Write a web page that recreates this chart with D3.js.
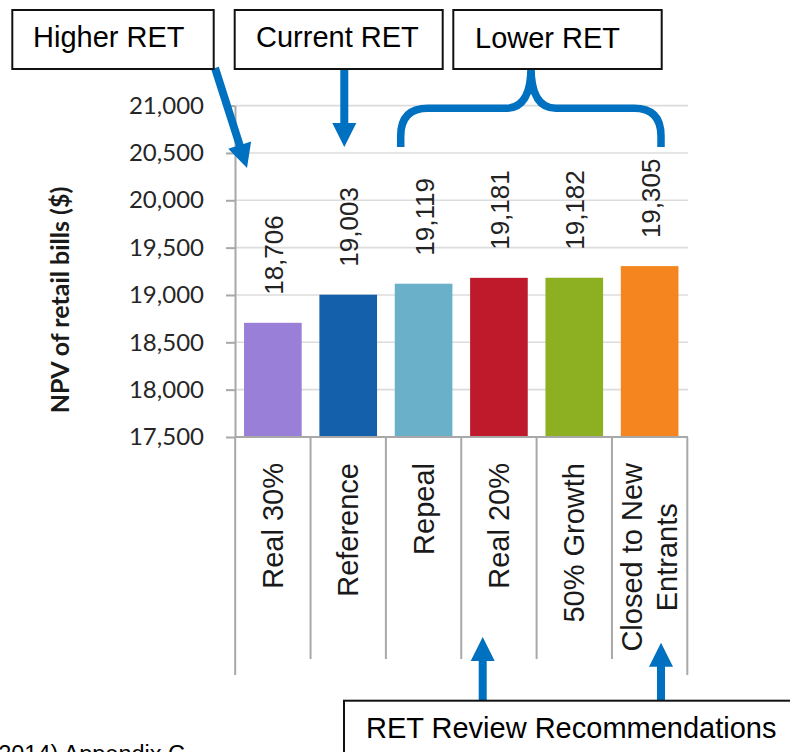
<!DOCTYPE html>
<html>
<head>
<meta charset="utf-8">
<script src="https://cdn.jsdelivr.net/npm/d3@7"></script>
<style>
  body { margin: 0; background: #fff; }
</style>
</head>
<body>
<script>
// chart data
const categories = ["Real 30%", "Reference", "Repeal", "Real 20%", "50% Growth", "Closed to New\nEntrants"];
const values = [18706, 19003, 19119, 19181, 19182, 19305];
const barColors = ["#9a7fd8", "#1460ab", "#6bb0c9", "#be1a2c", "#8cb022", "#f5861f"];
const yTicks = [17500, 18000, 18500, 19000, 19500, 20000, 20500, 21000];
const yTitle = "NPV of retail bills ($)";
const sourceNote = "(2014) Appendix C";

const width = 790,
    height = 752;

const svg = d3.select('body')
    .append('svg')
    .attr('width', width)
    .attr('height', height)
    .style('display', 'block');

const excelFont = "Lato, 'Open Sans', sans-serif";
const arialFont = "'Liberation Sans', Arial, sans-serif";
const blue = "#0070c0";

const x = d3.scaleBand()
    .domain(categories)
    .range([235, 687.5])
    .paddingInner(0.235)
    .paddingOuter(0.12);

const y = d3.scaleLinear()
    .domain([17500, 21000])
    .range([437, 105.6]);

// gridlines
svg.append('g')
    .selectAll('line')
    .data(yTicks.filter(d => d > 17500))
    .enter().append('line')
    .attr('x1', 235)
    .attr('x2', 688)
    .attr('y1', d => y(d))
    .attr('y2', d => y(d))
    .attr('stroke', '#dcdcdc')
    .attr('stroke-width', 1.6);

// y axis
const yAxis = svg.append('g')
    .attr('transform', 'translate(235,0)')
    .call(d3.axisLeft(y)
        .tickValues(yTicks)
        .tickFormat(d3.format(','))
        .tickSize(9)
        .tickSizeOuter(0)
        .tickPadding(22));
yAxis.select('.domain').attr('stroke', '#a8a8a8').attr('stroke-width', 2);
yAxis.selectAll('.tick line').attr('stroke', '#a8a8a8').attr('stroke-width', 2);
yAxis.selectAll('.tick text')
    .attr('fill', '#262626')
    .style('font-family', excelFont)
    .style('font-size', '24px');

svg.append('text')
    .attr('transform', 'translate(69,300) rotate(-90)')
    .attr('text-anchor', 'middle')
    .style('font-family', excelFont)
    .style('font-weight', 'bold')
    .style('font-size', '25px')
    .attr('fill', '#1a1a1a')
    .text(yTitle);

// bars
svg.append('g')
    .selectAll('rect')
    .data(values)
    .enter().append('rect')
    .attr('x', (d, i) => x(categories[i]))
    .attr('y', d => y(d))
    .attr('width', x.bandwidth())
    .attr('height', d => y(17500) - y(d))
    .attr('fill', (d, i) => barColors[i]);

// value labels
svg.append('g')
    .selectAll('text')
    .data(values)
    .enter().append('text')
    .attr('transform', (d, i) => 'translate(' + (x(categories[i]) + x.bandwidth() / 2 + 10) + ',' + (y(d) - 28) + ') rotate(-90)')
    .attr('text-anchor', 'start')
    .style('font-family', arialFont)
    .style('font-size', '26px')
    .attr('fill', '#222')
    .text(d => d3.format(',')(d));

// x axis line and category separators
const gap = (x.step() - x.bandwidth()) / 2;
const bounds = categories.map(c => x(c) - gap);
bounds.push(x(categories[categories.length - 1]) + x.bandwidth() + gap);

svg.append('line')
    .attr('x1', 235).attr('x2', 688)
    .attr('y1', y(17500)).attr('y2', y(17500))
    .attr('stroke', '#a8a8a8')
    .attr('stroke-width', 2);

svg.append('g')
    .selectAll('line')
    .data(bounds)
    .enter().append('line')
    .attr('x1', d => d).attr('x2', d => d)
    .attr('y1', y(17500))
    .attr('y2', (d, i) => (i === 0 || i === bounds.length - 1) ? 675 : 659)
    .attr('stroke', '#a8a8a8')
    .attr('stroke-width', 2);

// category labels
const catLabels = svg.append('g');
categories.forEach(function (c) {
    const lines = c.split('\n');
    const cx = x(c) + x.bandwidth() / 2;
    const texts = lines.map(function (line, i) {
        return catLabels.append('text')
            .style('font-family', arialFont)
            .style('font-size', '29px')
            .attr('fill', '#1a1a1a')
            .attr('text-anchor', 'middle')
            .text(line)
            .attr('data-bx', cx + 10 + (i - (lines.length - 1) / 2) * 35);
    });
    const maxLen = d3.max(texts, t => t.node().getComputedTextLength());
    texts.forEach(function (t) {
        t.attr('transform', 'translate(' + t.attr('data-bx') + ',' + (463 + maxLen / 2) + ') rotate(-90)');
    });
});

// annotations
function arrow(x1, y1, x2, y2) {
    const len = Math.hypot(x2 - x1, y2 - y1),
        ux = (x2 - x1) / len, uy = (y2 - y1) / len,
        px = -uy, py = ux,
        sw = 4, hw = 12, hl = 24;
    const bx = x2 - ux * hl, by = y2 - uy * hl;
    const pts = [
        [x1 + px * sw, y1 + py * sw],
        [bx + px * sw, by + py * sw],
        [bx + px * hw, by + py * hw],
        [x2, y2],
        [bx - px * hw, by - py * hw],
        [bx - px * sw, by - py * sw],
        [x1 - px * sw, y1 - py * sw]
    ];
    svg.append('path')
        .attr('d', 'M' + pts.map(p => p.join(',')).join('L') + 'Z')
        .attr('fill', blue);
}

function box(x0, y0, w, h, label, tx, ty) {
    svg.append('rect')
        .attr('x', x0).attr('y', y0)
        .attr('width', w).attr('height', h)
        .attr('fill', '#fff')
        .attr('stroke', '#111')
        .attr('stroke-width', 2);
    svg.append('text')
        .attr('x', tx).attr('y', ty)
        .style('font-family', arialFont)
        .style('font-size', '29px')
        .attr('fill', '#000')
        .text(label);
}

arrow(215, 68, 247, 168);
arrow(344.3, 68, 344.3, 147);
arrow(482.7, 701, 482.7, 637);
arrow(661, 701, 661, 642.7);

svg.append('path')
    .attr('d', 'M400.7,147 L400.7,136 Q400.7,108.3 428,108.3 L506,108.3 Q531,108.3 531,67 Q531,108.3 556,108.3 L634,108.3 Q661,108.3 661,136 L661,147')
    .attr('fill', 'none')
    .attr('stroke', blue)
    .attr('stroke-width', 7.5)
    .attr('stroke-linejoin', 'round');

box(12.3, 10, 201.4, 59, "Higher RET", 33, 47);
box(234.7, 10, 208, 59, "Current RET", 256, 47);
box(453.3, 10, 208.4, 59, "Lower RET", 475, 48);
box(344, 700.7, 460, 80, "RET Review Recommendations", 366, 738);

// source note, cut off at the bottom edge as in the reference
svg.append('text')
    .attr('x', 185).attr('y', 762)
    .attr('text-anchor', 'end')
    .style('font-family', arialFont)
    .style('font-size', '23.5px')
    .attr('fill', '#000')
    .text(sourceNote);
</script>
</body>
</html>
